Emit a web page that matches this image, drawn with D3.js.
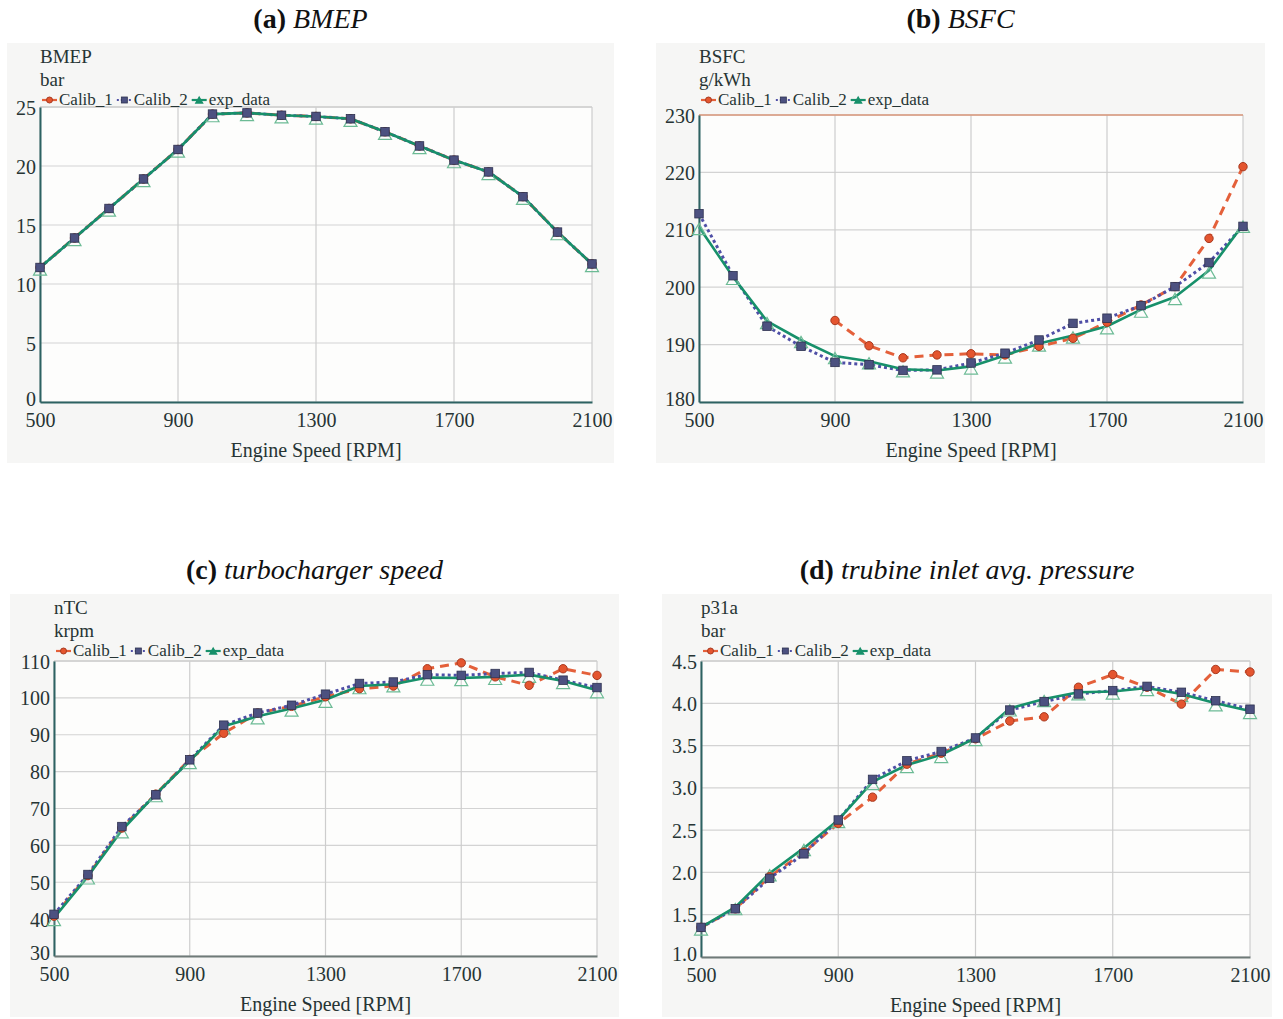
<!DOCTYPE html>
<html>
<head>
<meta charset="utf-8">
<script src="https://cdn.jsdelivr.net/npm/d3@7"></script>
<style>
  html, body { margin: 0; padding: 0; background: #ffffff; }
  svg { display: block; }
  text { font-family: "Liberation Serif", "Times New Roman", serif; }
</style>
</head>
<body>
<svg id="chart" width="1283" height="1019"></svg>
<script>
// ---------------- DATA ----------------
const rpm = [500, 600, 700, 800, 900, 1000, 1100, 1200, 1300, 1400, 1500, 1600, 1700, 1800, 1900, 2000, 2100];
const xTicks = [500, 900, 1300, 1700, 2100];
const seriesNames = ["Calib_1", "Calib_2", "exp_data"];

// (a) BMEP [bar]
const bmepCalib1 = [11.4, 13.9, 16.4, 18.9, 21.4, 24.4, 24.5, 24.3, 24.2, 24.0, 22.9, 21.7, 20.5, 19.5, 17.4, 14.4, 11.7];
const bmepCalib2 = [11.4, 13.9, 16.4, 18.9, 21.4, 24.4, 24.5, 24.3, 24.2, 24.0, 22.9, 21.7, 20.5, 19.5, 17.4, 14.4, 11.7];
const bmepExp    = [11.4, 13.9, 16.4, 18.9, 21.4, 24.4, 24.5, 24.3, 24.2, 24.0, 22.9, 21.7, 20.5, 19.5, 17.4, 14.4, 11.7];
const bmepTicks  = [0, 5, 10, 15, 20, 25];

// (b) BSFC [g/kWh]
const bsfcCalib1 = [null, null, null, null, 194.2, 189.8, 187.7, 188.2, 188.4, 188.2, 189.7, 191.1, 193.9, 196.9, 200.1, 208.5, 221.0];
const bsfcCalib2 = [212.8, 202.0, 193.2, 189.7, 186.9, 186.5, 185.5, 185.6, 186.8, 188.5, 190.8, 193.7, 194.6, 196.8, 200.1, 204.3, 210.6];
const bsfcExp    = [210.5, 201.8, 194.1, 190.8, 188.0, 187.1, 185.7, 185.5, 186.2, 188.1, 190.2, 191.6, 193.2, 196.1, 198.3, 202.9, 210.9];
const bsfcTicks  = [180, 190, 200, 210, 220, 230];

// (c) turbocharger speed nTC [krpm]
const ntcCalib1 = [40.8, 51.8, 64.7, 73.9, 83.3, 90.4, 95.9, 97.7, 100.3, 102.5, 103.2, 107.9, 109.5, 105.7, 103.4, 107.9, 106.1];
const ntcCalib2 = [41.3, 52.1, 65.1, 73.7, 83.2, 92.6, 95.9, 98.0, 101.0, 103.9, 104.3, 106.3, 106.1, 106.6, 106.9, 104.8, 102.8];
const ntcExp    = [40.3, 51.6, 64.1, 73.9, 82.9, 92.3, 95.0, 97.1, 99.5, 103.2, 103.7, 105.5, 105.4, 105.7, 106.3, 104.6, 102.1];
const ntcTicks  = [30, 40, 50, 60, 70, 80, 90, 100, 110];

// (d) turbine inlet avg. pressure p31a [bar]
const p31Calib1 = [1.35, 1.57, 1.95, 2.24, 2.58, 2.89, 3.28, 3.41, 3.58, 3.79, 3.84, 4.19, 4.34, 4.19, 3.99, 4.40, 4.37];
const p31Calib2 = [1.35, 1.57, 1.93, 2.22, 2.62, 3.10, 3.32, 3.43, 3.59, 3.92, 4.02, 4.11, 4.15, 4.20, 4.13, 4.03, 3.93];
const p31Exp    = [1.35, 1.59, 1.99, 2.29, 2.62, 3.07, 3.27, 3.39, 3.59, 3.94, 4.05, 4.13, 4.14, 4.18, 4.11, 4.00, 3.91];
const p31Ticks  = [1.0, 1.5, 2.0, 2.5, 3.0, 3.5, 4.0, 4.5];

// ---------------- LAYOUT / STYLE ----------------
const panels = [
  { tag: "(a)", title: "BMEP", name: "BMEP", unit: "bar",
    values: [bmepCalib1, bmepCalib2, bmepExp], ticks: bmepTicks, fmt: d3.format("d"),
    box: {x: 7, y: 43, w: 607, h: 420}, plot: {l: 40, r: 592, t: 107, b: 402}, topColor: "#cfcfcf" },
  { tag: "(b)", title: "BSFC", name: "BSFC", unit: "g/kWh",
    values: [bsfcCalib1, bsfcCalib2, bsfcExp], ticks: bsfcTicks, fmt: d3.format("d"),
    box: {x: 656, y: 43, w: 609, h: 420}, plot: {l: 699, r: 1243, t: 115, b: 402}, topColor: "#d9967a" },
  { tag: "(c)", title: "turbocharger speed", name: "nTC", unit: "krpm",
    values: [ntcCalib1, ntcCalib2, ntcExp], ticks: ntcTicks, fmt: d3.format("d"),
    box: {x: 10, y: 594, w: 609, h: 423}, plot: {l: 54, r: 597, t: 661, b: 956}, topColor: "#cfcfcf" },
  { tag: "(d)", title: "trubine inlet avg. pressure", name: "p31a", unit: "bar",
    values: [p31Calib1, p31Calib2, p31Exp], ticks: p31Ticks, fmt: d3.format(".1f"),
    box: {x: 662, y: 594, w: 610, h: 423}, plot: {l: 701, r: 1250, t: 661, b: 957}, topColor: "#cfcfcf" }
];

const styles = [
  { color: "#e4603a", width: 3, dash: "9,6", marker: "circle" },
  { color: "#4f4fa6", width: 3, dash: "3,3", marker: "square" },
  { color: "#17906a", width: 2.6, dash: null, marker: "triangle" }
];
const textColor = "#263434";

const svg = d3.select("#chart");

function drawMarker(g, type, x, y, legend) {
  if (type === "circle") {
    g.append("circle").attr("cx", x).attr("cy", y).attr("r", legend ? 3 : 4.2)
      .attr("fill", "#e4552f").attr("stroke", "#a83a20").attr("stroke-width", 1);
  } else if (type === "square") {
    const s = legend ? 6 : 8.5;
    g.append("rect").attr("x", x - s / 2).attr("y", y - s / 2).attr("width", s).attr("height", s)
      .attr("fill", "#4c5180").attr("stroke", "#2e3250").attr("stroke-width", 0.8);
  } else {
    const s = legend ? 7 : 13;
    const h = s * 0.87;
    const oy = legend ? 0 : 2;
    g.append("path")
      .attr("d", `M${x},${y - h / 2 + oy}L${x + s / 2},${y + h / 2 + oy}L${x - s / 2},${y + h / 2 + oy}Z`)
      .attr("fill", legend ? "#17906a" : "rgba(255,255,255,0.15)")
      .attr("stroke", legend ? "#17906a" : "#6cbb95").attr("stroke-width", 1.2);
  }
}

panels.forEach(p => {
  const g = svg.append("g");
  const {box, plot} = p;

  // title
  const t = g.append("text")
    .attr("x", box.x + box.w / 2).attr("y", box.y - 15)
    .attr("text-anchor", "middle").attr("font-size", 28).attr("fill", "#111");
  t.append("tspan").attr("font-weight", "bold").text(p.tag + " ");
  t.append("tspan").attr("font-style", "italic").text(p.title);

  // panel background
  g.append("rect").attr("x", box.x).attr("y", box.y).attr("width", box.w).attr("height", box.h)
    .attr("fill", "#f6f6f5");
  g.append("rect").attr("x", plot.l).attr("y", plot.t).attr("width", plot.r - plot.l).attr("height", plot.b - plot.t)
    .attr("fill", "#fdfdfc");

  const x = d3.scaleLinear().domain([500, 2100]).range([plot.l, plot.r]);
  const y = d3.scaleLinear().domain(d3.extent(p.ticks)).range([plot.b, plot.t]);

  // grid
  const grid = g.append("g");
  grid.selectAll("line.h").data(p.ticks).join("line")
    .attr("x1", plot.l).attr("x2", plot.r).attr("y1", d => y(d)).attr("y2", d => y(d))
    .attr("stroke", "#d3d3d3").attr("stroke-width", 1.2);
  grid.selectAll("line.v").data(xTicks).join("line")
    .attr("x1", d => x(d)).attr("x2", d => x(d)).attr("y1", plot.t).attr("y2", plot.b)
    .attr("stroke", "#cdcdcd").attr("stroke-width", 1.2);
  // top border
  g.append("line").attr("x1", plot.l).attr("x2", plot.r).attr("y1", plot.t).attr("y2", plot.t)
    .attr("stroke", p.topColor).attr("stroke-width", 1.3);

  // axes (d3 axes, restyled)
  const yAxis = g.append("g").attr("transform", `translate(${plot.l},0)`)
    .call(d3.axisLeft(y).tickValues(p.ticks).tickFormat(p.fmt).tickSize(0).tickPadding(4));
  yAxis.select(".domain").attr("stroke", "#2d6262").attr("stroke-width", 2);
  yAxis.selectAll("text").attr("font-size", 20).attr("fill", textColor)
    .attr("font-family", "Liberation Serif, serif").attr("dy", "0.65em")
    .attr("y", (d, i) => i === 0 ? -10 : -6);

  const xAxis = g.append("g").attr("transform", `translate(0,${plot.b})`)
    .call(d3.axisBottom(x).tickValues(xTicks).tickFormat(d3.format("d")).tickSize(0).tickPadding(11));
  xAxis.select(".domain").attr("stroke", p.tag === "(c)" || p.tag === "(d)" ? "#6f7a78" : "#2d6262").attr("stroke-width", 2);
  xAxis.selectAll("text").attr("font-size", 20).attr("fill", textColor)
    .attr("font-family", "Liberation Serif, serif");

  // x-axis title
  g.append("text").attr("x", (plot.l + plot.r) / 2).attr("y", plot.b + 55)
    .attr("text-anchor", "middle").attr("font-size", 20).attr("fill", textColor)
    .text("Engine Speed [RPM]");

  // y name and unit
  g.append("text").attr("x", plot.l).attr("y", box.y + 20).attr("font-size", 19).attr("fill", textColor).text(p.name);
  g.append("text").attr("x", plot.l).attr("y", box.y + 43).attr("font-size", 19).attr("fill", textColor).text(p.unit);

  // legend
  const lg = g.append("g");
  let lx = plot.l + 2;
  const ly = box.y + 57;
  seriesNames.forEach((n, i) => {
    const st = styles[i];
    lg.append("line").attr("x1", lx).attr("x2", lx + 15).attr("y1", ly).attr("y2", ly)
      .attr("stroke", st.color).attr("stroke-width", 2.2)
      .attr("stroke-dasharray", i === 1 ? "2,2" : null);
    drawMarker(lg, st.marker, lx + 7.5, ly, true);
    const tx = lg.append("text").attr("x", lx + 17).attr("y", ly + 5).attr("font-size", 17)
      .attr("fill", textColor).text(n);
    lx += 17 + tx.node().getComputedTextLength() + 4;
  });

  // lines
  const pts = p.values.map(v => rpm.map((r, i) => ({x: r, y: v[i]})));
  const line = d3.line().defined(d => d.y != null).x(d => x(d.x)).y(d => y(d.y));
  pts.forEach((data, i) => {
    const st = styles[i];
    g.append("path").datum(data).attr("d", line).attr("fill", "none")
      .attr("stroke", st.color).attr("stroke-width", st.width)
      .attr("stroke-dasharray", st.dash).attr("stroke-linejoin", "round");
  });
  // markers: triangles, circles, squares
  [2, 0, 1].forEach(i => {
    const mg = g.append("g");
    pts[i].filter(d => d.y != null).forEach(d => drawMarker(mg, styles[i].marker, x(d.x), y(d.y), false));
  });
});
</script>
</body>
</html>
